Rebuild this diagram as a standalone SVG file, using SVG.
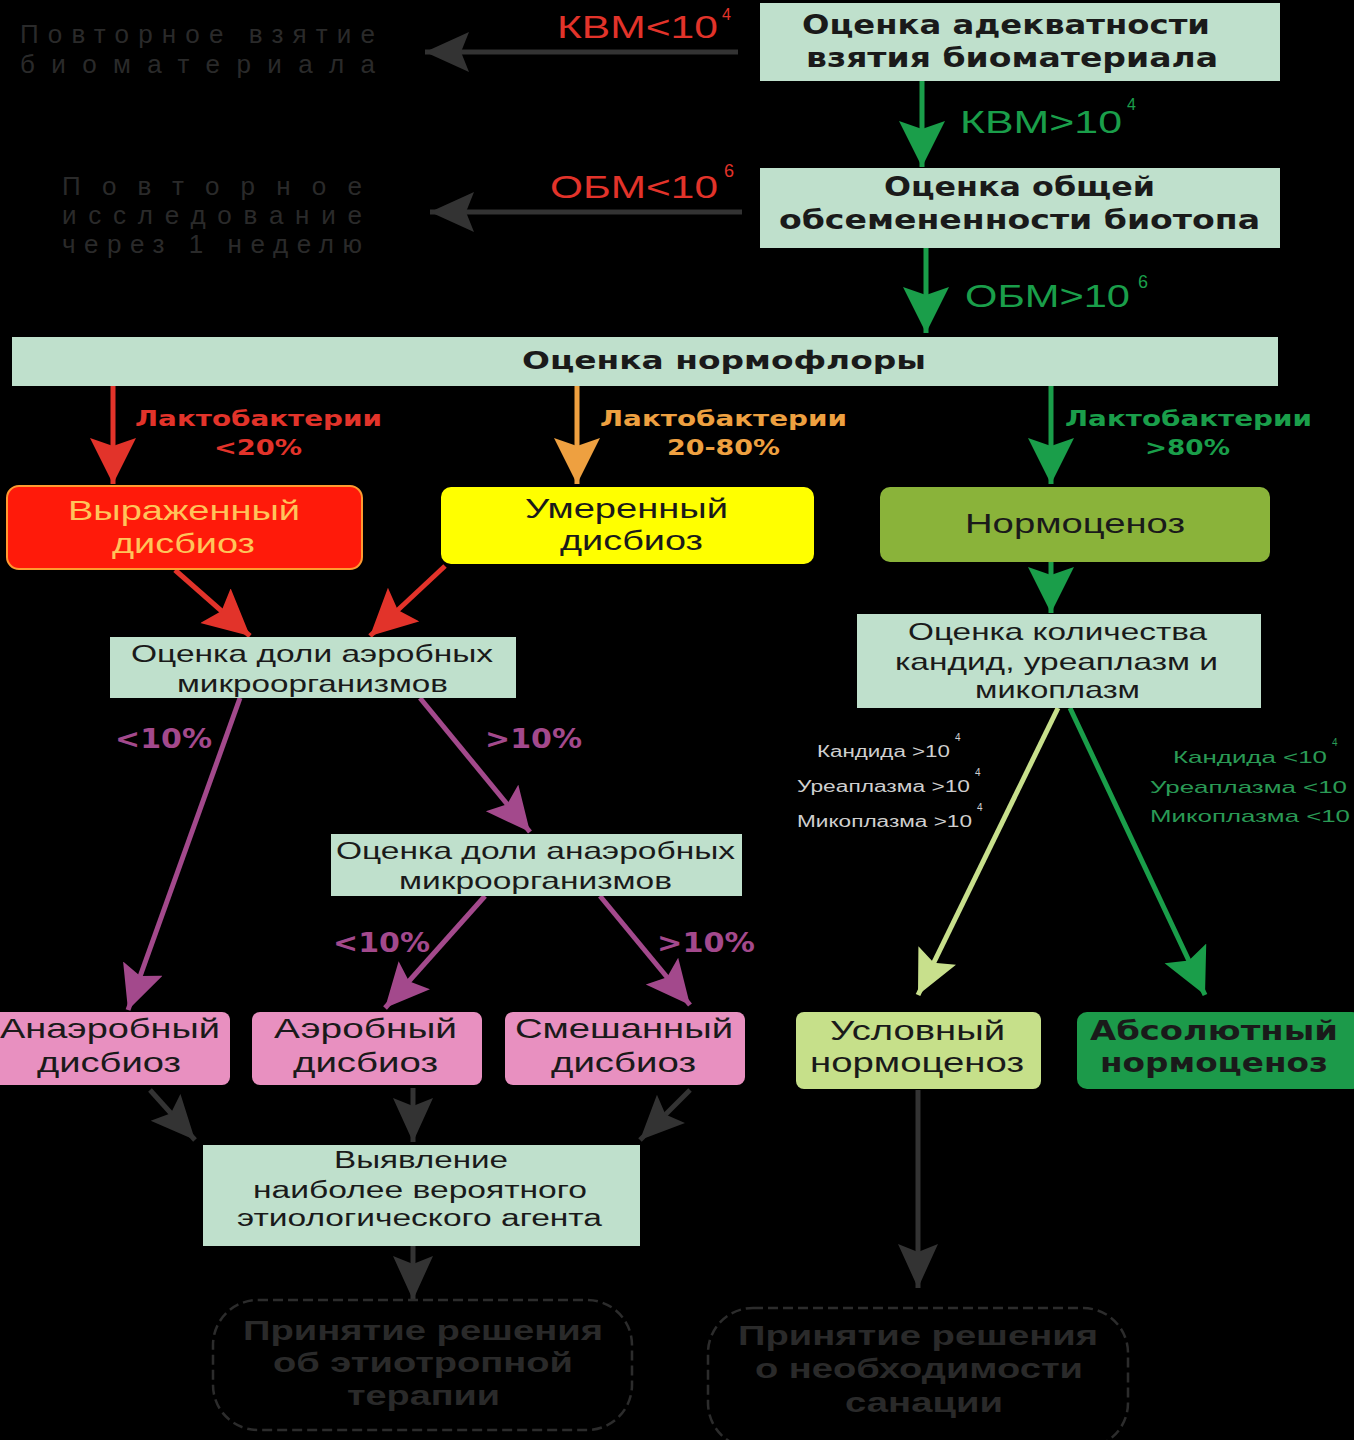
<svg xmlns="http://www.w3.org/2000/svg" width="1354" height="1440" viewBox="0 0 1354 1440">
<style>
.bg{fill:#000}
.mint{fill:#bfe0cc}
.t{font-family:"Liberation Sans",Arial,sans-serif;fill:#1a1a1a}
.b{font-family:"DejaVu Sans",Verdana,sans-serif;font-weight:bold;fill:#1a1a1a}
.lbl{font-family:"DejaVu Sans",Verdana,sans-serif;font-weight:bold}
.faint{font-family:"Liberation Sans",Arial,sans-serif;fill:#2a2a2a}
.c{fill:none;stroke-width:5}
.g{stroke:#1a9e4a}.r{stroke:#e2332a}.o{stroke:#eea040}.p{stroke:#a3498c}.l{stroke:#c8e08c}.k{stroke:#333}
</style>
<defs>
<marker id="mG" markerUnits="userSpaceOnUse" markerWidth="48" markerHeight="48" refX="46" refY="23" orient="auto"><path d="M0,0 L46,23 L0,46 L8,23z" fill="#1a9e4a"/></marker>
<marker id="mR" markerUnits="userSpaceOnUse" markerWidth="48" markerHeight="48" refX="46" refY="23" orient="auto"><path d="M0,0 L46,23 L0,46 L8,23z" fill="#e2332a"/></marker>
<marker id="mO" markerUnits="userSpaceOnUse" markerWidth="48" markerHeight="48" refX="46" refY="23" orient="auto"><path d="M0,0 L46,23 L0,46 L8,23z" fill="#eea040"/></marker>
<marker id="mP" markerUnits="userSpaceOnUse" markerWidth="48" markerHeight="48" refX="44" refY="21" orient="auto"><path d="M0,0 L44,21 L0,42 L8,21z" fill="#a3498c"/></marker>
<marker id="mL" markerUnits="userSpaceOnUse" markerWidth="48" markerHeight="48" refX="44" refY="21" orient="auto"><path d="M0,0 L44,21 L0,42 L8,21z" fill="#c8e08c"/></marker>
<marker id="mK" markerUnits="userSpaceOnUse" markerWidth="48" markerHeight="48" refX="44" refY="20" orient="auto"><path d="M0,0 L44,20 L0,40 L8,20z" fill="#333"/></marker>
</defs>
<rect class="bg" x="0" y="0" width="1354" height="1440"/>

<g id="connectors">
<line class="c k" x1="738" y1="52" x2="425" y2="52" marker-end="url(#mK)"/>
<line class="c g" x1="922" y1="81" x2="922" y2="167" marker-end="url(#mG)"/>
<line class="c k" x1="742" y1="212" x2="430" y2="212" marker-end="url(#mK)"/>
<line class="c g" x1="926" y1="248" x2="926" y2="333" marker-end="url(#mG)"/>
<line class="c r" x1="113" y1="386" x2="113" y2="484" marker-end="url(#mR)"/>
<line class="c o" x1="577" y1="386" x2="577" y2="484" marker-end="url(#mO)"/>
<line class="c g" x1="1051" y1="386" x2="1051" y2="484" marker-end="url(#mG)"/>
<line class="c g" x1="1051" y1="562" x2="1051" y2="613" marker-end="url(#mG)"/>
<line class="c r" x1="175" y1="570" x2="250" y2="636" marker-end="url(#mR)"/>
<line class="c r" x1="445" y1="566" x2="370" y2="636" marker-end="url(#mR)"/>
<line class="c p" x1="240" y1="698" x2="128" y2="1010" marker-end="url(#mP)"/>
<line class="c p" x1="420" y1="698" x2="530" y2="832" marker-end="url(#mP)"/>
<line class="c p" x1="485" y1="896" x2="385" y2="1008" marker-end="url(#mP)"/>
<line class="c p" x1="600" y1="896" x2="690" y2="1005" marker-end="url(#mP)"/>
<line class="c l" x1="1058" y1="708" x2="918" y2="995" marker-end="url(#mL)"/>
<line class="c g" x1="1070" y1="708" x2="1205" y2="995" marker-end="url(#mG)"/>
<line class="c k" x1="150" y1="1090" x2="195" y2="1140" marker-end="url(#mK)"/>
<line class="c k" x1="413" y1="1088" x2="413" y2="1142" marker-end="url(#mK)"/>
<line class="c k" x1="690" y1="1090" x2="640" y2="1140" marker-end="url(#mK)"/>
<line class="c k" x1="413" y1="1246" x2="413" y2="1300" marker-end="url(#mK)"/>
<line class="c k" x1="918" y1="1090" x2="918" y2="1288" marker-end="url(#mK)"/>
</g>

<g id="label-kvm-low">
<text class="t" x="557" y="38" font-size="32" style="fill:#e2332a" textLength="161" lengthAdjust="spacingAndGlyphs">КВМ&lt;10</text>
<text class="t" x="722" y="20" font-size="16" style="fill:#e2332a">4</text>
</g>
<g id="label-kvm-high">
<text class="t" x="960" y="133" font-size="32" style="fill:#1a9e4a" textLength="162" lengthAdjust="spacingAndGlyphs">КВМ&gt;10</text>
<text class="t" x="1127" y="110" font-size="16" style="fill:#1a9e4a">4</text>
</g>
<g id="label-obm-low">
<text class="t" x="550" y="198" font-size="32" style="fill:#e2332a" textLength="168" lengthAdjust="spacingAndGlyphs">ОБМ&lt;10</text>
<text class="t" x="724" y="177" font-size="18" style="fill:#e2332a">6</text>
</g>
<g id="label-obm-high">
<text class="t" x="965" y="307" font-size="32" style="fill:#1a9e4a" textLength="165" lengthAdjust="spacingAndGlyphs">ОБМ&gt;10</text>
<text class="t" x="1138" y="288" font-size="18" style="fill:#1a9e4a">6</text>
</g>

<g id="node-repeat-sample">
<text class="faint" x="20" y="43" font-size="26" textLength="355" lengthAdjust="spacing">Повторное взятие</text>
<text class="faint" x="20" y="73" font-size="26" textLength="355" lengthAdjust="spacing">биоматериала</text>
</g>
<g id="node-repeat-study">
<text class="faint" x="62" y="195" font-size="26" textLength="300" lengthAdjust="spacing">Повторное</text>
<text class="faint" x="62" y="224" font-size="26" textLength="300" lengthAdjust="spacing">исследование</text>
<text class="faint" x="62" y="253" font-size="26" textLength="300" lengthAdjust="spacing">через 1 неделю</text>
</g>

<g id="node-adequacy">
<rect class="mint" x="760" y="3" width="520" height="78"/>
<text class="b" x="802" y="34" font-size="26" textLength="408" lengthAdjust="spacingAndGlyphs">Оценка адекватности</text>
<text class="b" x="806" y="67" font-size="26" textLength="412" lengthAdjust="spacingAndGlyphs">взятия биоматериала</text>
</g>
<g id="node-total">
<rect class="mint" x="760" y="168" width="520" height="80"/>
<text class="b" x="884" y="196" font-size="26" textLength="271" lengthAdjust="spacingAndGlyphs">Оценка общей</text>
<text class="b" x="779" y="229" font-size="26" textLength="481" lengthAdjust="spacingAndGlyphs">обсемененности биотопа</text>
</g>
<g id="node-normoflora">
<rect class="mint" x="12" y="337" width="1266" height="49"/>
<text class="b" x="522" y="369" font-size="25" textLength="404" lengthAdjust="spacingAndGlyphs">Оценка нормофлоры</text>
</g>

<g id="label-lacto-low">
<text class="lbl" x="135" y="426" font-size="22" fill="#e2332a" textLength="247" lengthAdjust="spacingAndGlyphs">Лактобактерии</text>
<text class="lbl" x="214" y="455" font-size="22" fill="#e2332a" textLength="88" lengthAdjust="spacingAndGlyphs">&lt;20%</text>
</g>
<g id="label-lacto-mid">
<text class="lbl" x="600" y="426" font-size="22" fill="#eea040" textLength="247" lengthAdjust="spacingAndGlyphs">Лактобактерии</text>
<text class="lbl" x="667" y="455" font-size="22" fill="#eea040" textLength="113" lengthAdjust="spacingAndGlyphs">20-80%</text>
</g>
<g id="label-lacto-high">
<text class="lbl" x="1065" y="426" font-size="22" fill="#1a9e4a" textLength="247" lengthAdjust="spacingAndGlyphs">Лактобактерии</text>
<text class="lbl" x="1145" y="455" font-size="22" fill="#1a9e4a" textLength="85" lengthAdjust="spacingAndGlyphs">&gt;80%</text>
</g>

<g id="node-severe">
<rect x="7" y="486" width="355" height="83" rx="12" fill="#ff1a0a" stroke="#ff9a30" stroke-width="2"/>
<text class="t" x="68" y="520" font-size="28" style="fill:#ffc45a" textLength="232" lengthAdjust="spacingAndGlyphs">Выраженный</text>
<text class="t" x="112" y="553" font-size="28" style="fill:#ffc45a" textLength="143" lengthAdjust="spacingAndGlyphs">дисбиоз</text>
</g>
<g id="node-moderate">
<rect x="441" y="487" width="373" height="77" rx="10" fill="#ffff00"/>
<text class="t" x="525" y="518" font-size="28" textLength="203" lengthAdjust="spacingAndGlyphs">Умеренный</text>
<text class="t" x="560" y="550" font-size="28" textLength="143" lengthAdjust="spacingAndGlyphs">дисбиоз</text>
</g>
<g id="node-normocenosis">
<rect x="880" y="487" width="390" height="75" rx="10" fill="#8ab33a"/>
<text class="t" x="965" y="533" font-size="28" textLength="220" lengthAdjust="spacingAndGlyphs">Нормоценоз</text>
</g>
<g id="node-candida">
<rect class="mint" x="857" y="614" width="404" height="94"/>
<text class="t" x="908" y="640" font-size="24" textLength="299" lengthAdjust="spacingAndGlyphs">Оценка количества</text>
<text class="t" x="895" y="670" font-size="24" textLength="323" lengthAdjust="spacingAndGlyphs">кандид, уреаплазм и</text>
<text class="t" x="975" y="698" font-size="24" textLength="165" lengthAdjust="spacingAndGlyphs">микоплазм</text>
</g>
<g id="node-aerobic">
<rect class="mint" x="110" y="637" width="406" height="61"/>
<text class="t" x="131" y="662" font-size="24" textLength="362" lengthAdjust="spacingAndGlyphs">Оценка доли аэробных</text>
<text class="t" x="177" y="692" font-size="24" textLength="271" lengthAdjust="spacingAndGlyphs">микроорганизмов</text>
</g>

<g id="label-aer-low"><text class="lbl" x="115" y="748" font-size="26" fill="#a3498c" textLength="97" lengthAdjust="spacingAndGlyphs">&lt;10%</text></g>
<g id="label-aer-high"><text class="lbl" x="485" y="748" font-size="26" fill="#a3498c" textLength="97" lengthAdjust="spacingAndGlyphs">&gt;10%</text></g>

<g id="node-anaerobic">
<rect class="mint" x="331" y="834" width="411" height="62"/>
<text class="t" x="336" y="859" font-size="24" textLength="399" lengthAdjust="spacingAndGlyphs">Оценка доли анаэробных</text>
<text class="t" x="399" y="889" font-size="24" textLength="273" lengthAdjust="spacingAndGlyphs">микроорганизмов</text>
</g>
<g id="label-ana-low"><text class="lbl" x="333" y="952" font-size="26" fill="#a3498c" textLength="97" lengthAdjust="spacingAndGlyphs">&lt;10%</text></g>
<g id="label-ana-high"><text class="lbl" x="657" y="952" font-size="26" fill="#a3498c" textLength="98" lengthAdjust="spacingAndGlyphs">&gt;10%</text></g>

<g id="label-cand-high">
<text class="t" x="817" y="757" font-size="16" style="fill:#cfcfcf" textLength="133" lengthAdjust="spacingAndGlyphs">Кандида &gt;10</text>
<text class="t" x="955" y="741" font-size="10" style="fill:#cfcfcf">4</text>
<text class="t" x="797" y="792" font-size="16" style="fill:#cfcfcf" textLength="173" lengthAdjust="spacingAndGlyphs">Уреаплазма &gt;10</text>
<text class="t" x="975" y="776" font-size="10" style="fill:#cfcfcf">4</text>
<text class="t" x="797" y="827" font-size="16" style="fill:#cfcfcf" textLength="175" lengthAdjust="spacingAndGlyphs">Микоплазма &gt;10</text>
<text class="t" x="977" y="811" font-size="10" style="fill:#cfcfcf">4</text>
</g>
<g id="label-cand-low">
<text class="t" x="1173" y="763" font-size="17" style="fill:#2a9a55" textLength="154" lengthAdjust="spacingAndGlyphs">Кандида &lt;10</text>
<text class="t" x="1332" y="746" font-size="10" style="fill:#2a9a55">4</text>
<text class="t" x="1150" y="793" font-size="17" style="fill:#2a9a55" textLength="197" lengthAdjust="spacingAndGlyphs">Уреаплазма &lt;10</text>
<text class="t" x="1150" y="822" font-size="17" style="fill:#2a9a55" textLength="200" lengthAdjust="spacingAndGlyphs">Микоплазма &lt;10</text>
</g>

<g id="node-anaerobic-dysbiosis">
<rect x="-8" y="1012" width="238" height="73" rx="8" fill="#e890c0"/>
<text class="t" x="0" y="1038" font-size="28" textLength="220" lengthAdjust="spacingAndGlyphs">Анаэробный</text>
<text class="t" x="37" y="1072" font-size="28" textLength="144" lengthAdjust="spacingAndGlyphs">дисбиоз</text>
</g>
<g id="node-aerobic-dysbiosis">
<rect x="252" y="1012" width="230" height="73" rx="8" fill="#e890c0"/>
<text class="t" x="274" y="1038" font-size="28" textLength="183" lengthAdjust="spacingAndGlyphs">Аэробный</text>
<text class="t" x="293" y="1072" font-size="28" textLength="145" lengthAdjust="spacingAndGlyphs">дисбиоз</text>
</g>
<g id="node-mixed-dysbiosis">
<rect x="505" y="1012" width="240" height="73" rx="8" fill="#e890c0"/>
<text class="t" x="515" y="1038" font-size="28" textLength="218" lengthAdjust="spacingAndGlyphs">Смешанный</text>
<text class="t" x="551" y="1072" font-size="28" textLength="145" lengthAdjust="spacingAndGlyphs">дисбиоз</text>
</g>
<g id="node-conditional">
<rect x="796" y="1012" width="245" height="77" rx="8" fill="#c6e08a"/>
<text class="t" x="830" y="1040" font-size="28" textLength="175" lengthAdjust="spacingAndGlyphs">Условный</text>
<text class="t" x="810" y="1072" font-size="28" textLength="214" lengthAdjust="spacingAndGlyphs">нормоценоз</text>
</g>
<g id="node-absolute">
<rect x="1077" y="1012" width="285" height="77" rx="10" fill="#1c9a4a"/>
<text class="b" x="1090" y="1040" font-size="27" textLength="248" lengthAdjust="spacingAndGlyphs">Абсолютный</text>
<text class="b" x="1100" y="1072" font-size="27" textLength="228" lengthAdjust="spacingAndGlyphs">нормоценоз</text>
</g>

<g id="node-agent">
<rect class="mint" x="203" y="1145" width="437" height="101"/>
<text class="t" x="334" y="1168" font-size="23" textLength="174" lengthAdjust="spacingAndGlyphs">Выявление</text>
<text class="t" x="253" y="1198" font-size="23" textLength="334" lengthAdjust="spacingAndGlyphs">наиболее вероятного</text>
<text class="t" x="237" y="1226" font-size="23" textLength="365" lengthAdjust="spacingAndGlyphs">этиологического агента</text>
</g>

<g id="node-therapy">
<rect x="213" y="1300" width="419" height="130" rx="45" fill="none" stroke="#2c2c2c" stroke-width="2.5" stroke-dasharray="10 5"/>
<text class="faint" x="243" y="1340" font-size="28" font-weight="bold" textLength="360" lengthAdjust="spacingAndGlyphs">Принятие решения</text>
<text class="faint" x="273" y="1372" font-size="28" font-weight="bold" textLength="300" lengthAdjust="spacingAndGlyphs">об этиотропной</text>
<text class="faint" x="347" y="1405" font-size="28" font-weight="bold" textLength="153" lengthAdjust="spacingAndGlyphs">терапии</text>
</g>
<g id="node-sanation">
<rect x="708" y="1308" width="420" height="140" rx="45" fill="none" stroke="#2c2c2c" stroke-width="2.5" stroke-dasharray="10 5"/>
<text class="faint" x="738" y="1345" font-size="28" font-weight="bold" textLength="360" lengthAdjust="spacingAndGlyphs">Принятие решения</text>
<text class="faint" x="755" y="1378" font-size="28" font-weight="bold" textLength="328" lengthAdjust="spacingAndGlyphs">о необходимости</text>
<text class="faint" x="845" y="1412" font-size="28" font-weight="bold" textLength="158" lengthAdjust="spacingAndGlyphs">санации</text>
</g>
</svg>
